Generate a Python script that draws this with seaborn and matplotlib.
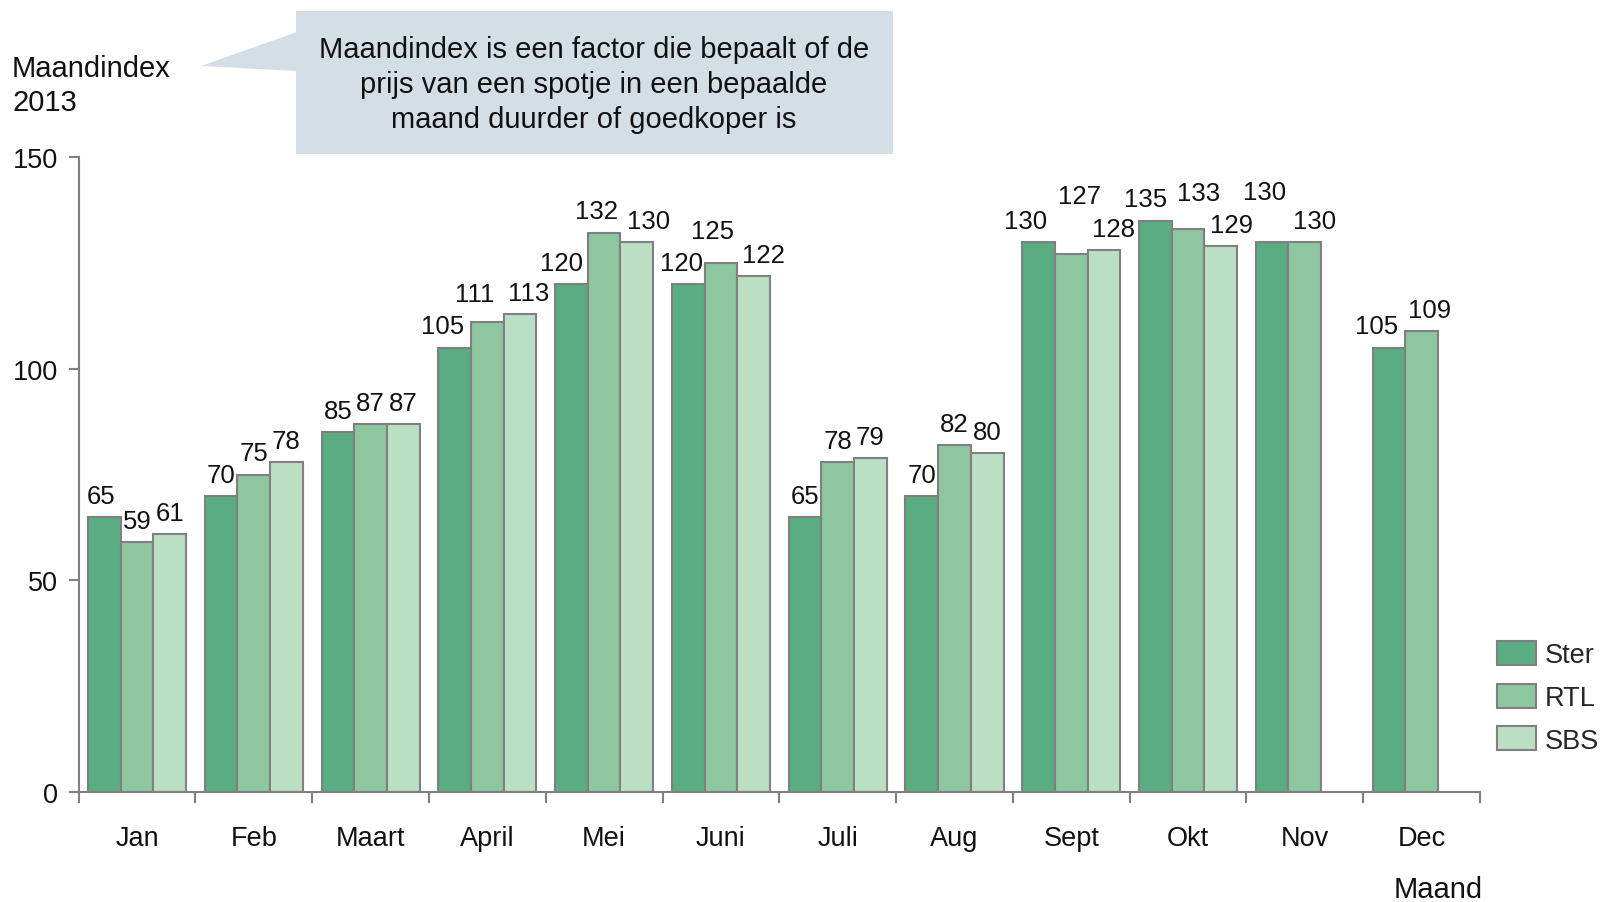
import numpy as np
import pandas as pd
import matplotlib
matplotlib.use("Agg")
import matplotlib.pyplot as plt
from matplotlib.patches import Polygon, Rectangle
import seaborn as sns

# ---- data -------------------------------------------------------------
months = ["Jan", "Feb", "Maart", "April", "Mei", "Juni",
          "Juli", "Aug", "Sept", "Okt", "Nov", "Dec"]
series = ["Ster", "RTL", "SBS"]
ster = [65, 70, 85, 105, 120, 120, 65, 70, 130, 135, 130, 105]
rtl = [59, 75, 87, 111, 132, 125, 78, 82, 127, 133, 130, 109]
sbs = [61, 78, 87, 113, 130, 122, 79, 80, 128, 129, None, None]
yticks = [0, 50, 100, 150]

colors = ["#5aad82", "#8dc69f", "#badfc3"]
edge = "#808080"

values = dict(zip(series, [ster, rtl, sbs]))
rows = []
for name in series:
    for m, v in zip(months, values[name]):
        if v is not None:
            rows.append({"Maand": m, "Zender": name, "Index": v})
df = pd.DataFrame(rows)

# label nudges in pixels (dx, dy above bar top)
nudge = {
    ("April", "Ster"): (-12, 21), ("April", "RTL"): (-13, 28), ("April", "SBS"): (9, 21),
    ("Mei", "Ster"): (-10, 21), ("Mei", "RTL"): (-8, 22), ("Mei", "SBS"): (12, 21),
    ("Juni", "Ster"): (-7, 21), ("Juni", "RTL"): (-8, 32), ("Juni", "SBS"): (10, 21),
    ("Sept", "Ster"): (-13, 21), ("Sept", "RTL"): (8, 58), ("Sept", "SBS"): (10, 21),
    ("Okt", "Ster"): (-10, 21), ("Okt", "RTL"): (11, 36), ("Okt", "SBS"): (11, 21),
    ("Nov", "Ster"): (-8, 50), ("Nov", "RTL"): (10, 21),
    ("Dec", "Ster"): (-12, 21), ("Dec", "RTL"): (8, 21),
    ("Jan", "Ster"): (-3, 21),
}

# ---- figure -----------------------------------------------------------
sns.set_theme(style="white")
plt.rcParams["font.family"] = ["Liberation Sans", "DejaVu Sans"]

W, H = 1600, 903
fig = plt.figure(figsize=(W / 100, H / 100), dpi=100)
ax_l, ax_r, ax_t, ax_b = 78.6, 1480, 158, 793
ax = fig.add_axes([ax_l / W, 1 - ax_b / H, (ax_r - ax_l) / W, (ax_b - ax_t) / H])

sns.barplot(data=df, x="Maand", y="Index", hue="Zender", order=months,
            hue_order=series, palette=colors, width=0.84, gap=0,
            edgecolor=edge, linewidth=1.5, saturation=1, ax=ax)

ax.set_xlim(-0.5, len(months) - 0.5)
ax.set_ylim(0, 150)
ax.set_yticks(yticks)
ax.set_xlabel("")
ax.set_ylabel("")

for s in ["top", "right"]:
    ax.spines[s].set_visible(False)
for s in ["left", "bottom"]:
    ax.spines[s].set_color(edge)
    ax.spines[s].set_linewidth(1.5)

ax.tick_params(axis="y", which="major", length=7, width=1.5, color=edge,
               labelsize=19.5, pad=8, left=True)
ax.tick_params(axis="x", which="major", length=0, labelsize=19.5, pad=24)
ax.set_xticks(np.arange(-0.5, len(months) + 0.5, 1), minor=True)
ax.tick_params(axis="x", which="minor", length=8, width=1.5, color=edge,
               bottom=True, direction="out")
for lab in ax.get_xticklabels() + ax.get_yticklabels():
    lab.set_color("#111111")

# value labels above bars
for name, cont in zip(series, ax.containers):
    present = [m for m, v in zip(months, values[name]) if v is not None]
    for m, bar in zip(present, cont):
        h = bar.get_height()
        dx, dy = nudge.get((m, name), (0, 21))
        ax.annotate(f"{h:.0f}", (bar.get_x() + bar.get_width() / 2, h),
                    xytext=(dx, dy), textcoords="offset pixels",
                    ha="center", va="center", fontsize=18.5, color="#111111")

# legend
leg = ax.legend(loc="upper left", bbox_to_anchor=(1497 / W, 1 - 642 / H),
                bbox_transform=fig.transFigure, frameon=False, fontsize=19.5,
                handlelength=1.45, handleheight=1.0, labelspacing=0.56,
                handletextpad=0.3, borderaxespad=0, borderpad=0)
for p in leg.get_patches():
    p.set_edgecolor(edge)
    p.set_linewidth(1.5)

# axis titles
fig.text(12 / W, 1 - 86 / H, "Maandindex\n2013", ha="left", va="center",
         fontsize=21, linespacing=1.25, color="#111111")
fig.text(1438 / W, 1 - 890 / H, "Maand", ha="center", va="center",
         fontsize=21, color="#111111")

# callout box
box_c = "#d3dfe5"
fig.patches.append(Rectangle((296 / W, 1 - 155 / H), (893 - 296) / W, (155 - 12) / H,
                             transform=fig.transFigure, facecolor=box_c,
                             edgecolor="none"))
fig.patches.append(Polygon([(297 / W, 1 - 33 / H), (297 / W, 1 - 72 / H),
                            (201 / W, 1 - 67 / H)], closed=True,
                           transform=fig.transFigure, facecolor=box_c,
                           edgecolor="none"))
fig.text(594 / W, 1 - 85 / H,
         "Maandindex is een factor die bepaalt of de\n"
         "prijs van een spotje in een bepaalde\n"
         "maand duurder of goedkoper is",
         ha="center", va="center", fontsize=21, linespacing=1.3,
         color="#111111")

fig.savefig("out.png", dpi=100)
